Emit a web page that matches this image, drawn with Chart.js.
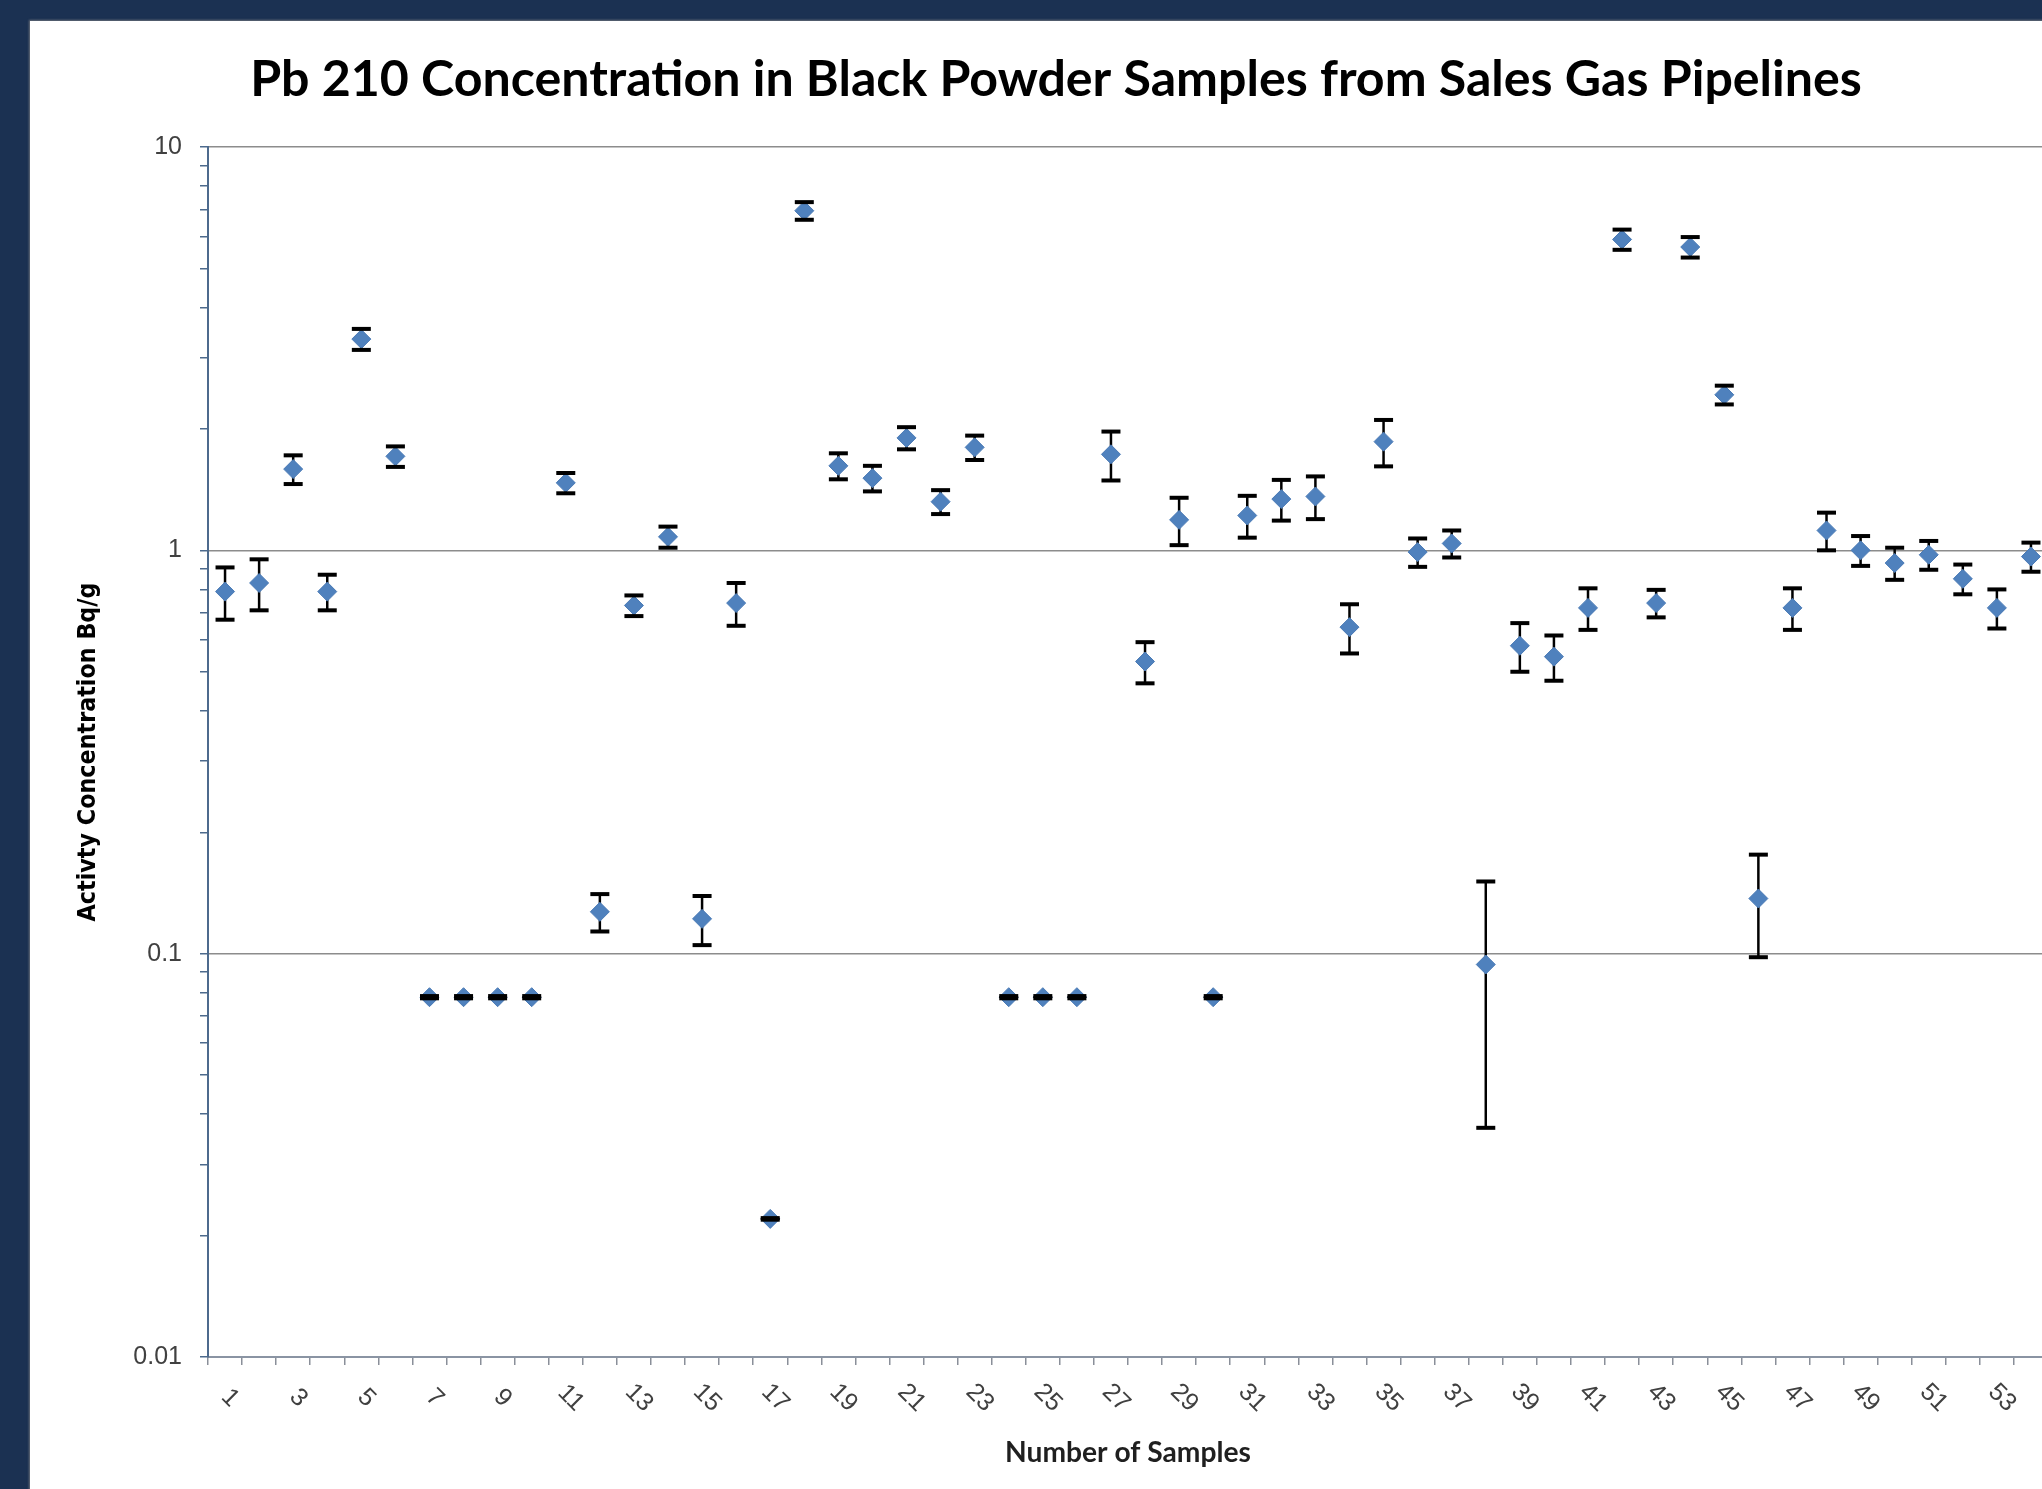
<!DOCTYPE html>
<html><head><meta charset="utf-8">
<script src="https://cdn.jsdelivr.net/npm/chart.js@4.4.1/dist/chart.umd.min.js"></script>
<style>
html,body{margin:0;padding:0;width:2042px;height:1489px;overflow:hidden;background:#1b3152;}
#panel{position:absolute;left:30px;top:21px;width:2100px;height:1500px;background:#fff;box-shadow:-1px -1px 2px rgba(140,140,140,0.7);}
#wrap{position:absolute;left:64px;top:21px;width:1984px;height:1468px;}
</style></head><body>
<div id="panel"></div>
<div id="wrap"><canvas id="c" width="1984" height="1468" style="width:1984px;height:1468px"></canvas></div>
<script>
// ---- data ----
const sampleLabels = ['1','2','3','4','5','6','7','8','9','10','11','12','13','14','15','16','17','18',
  '19','20','21','22','23','24','25','26','27','28','29','30','31','32','33','34','35','36',
  '37','38','39','40','41','42','43','44','45','46','47','48','49','50','51','52','53','54'];
const activity = [0.79, 0.83, 1.59, 0.79, 3.34, 1.71, 0.078, 0.078, 0.078, 0.078,
  1.47, 0.127, 0.73, 1.08, 0.122, 0.74, 0.022, 6.95, 1.62, 1.51,
  1.90, 1.32, 1.80, 0.078, 0.078, 0.078, 1.73, 0.53, 1.19, 0.078,
  1.22, 1.34, 1.36, 0.645, 1.86, 0.99, 1.04, 0.094, 0.58, 0.545,
  0.72, 5.9, 0.74, 5.65, 2.43, 0.137, 0.72, 1.12, 1.00, 0.93,
  0.975, 0.85, 0.72, 0.965];
const uncertainty = [0.117, 0.12, 0.13, 0.08, 0.20, 0.10, 0.0005, 0.0005, 0.0005, 0.0005,
  0.085, 0.0135, 0.043, 0.065, 0.017, 0.09, 0.0001, 0.35, 0.12, 0.11,
  0.12, 0.09, 0.125, 0.0005, 0.0005, 0.0005, 0.24, 0.062, 0.16, 0.0005,
  0.145, 0.155, 0.165, 0.09, 0.245, 0.08, 0.08, 0.057, 0.08, 0.07,
  0.085, 0.34, 0.058, 0.33, 0.13, 0.039, 0.085, 0.12, 0.085, 0.085,
  0.08, 0.072, 0.08, 0.08];
const yMajorTicks = [0.01, 0.1, 1, 10];
const yMajorLabels = ['0.01', '0.1', '1', '10'];
const yMinorTicks = [0.02,0.03,0.04,0.05,0.06,0.07,0.08,0.09,
  0.2,0.3,0.4,0.5,0.6,0.7,0.8,0.9, 2,3,4,5,6,7,8,9];
const titleText = 'Pb 210 Concentration in Black Powder Samples from Sales Gas Pipelines';
const xTitleText = 'Number of Samples';
const yTitleText = 'Activty Concentration Bq/g';

// ---- styling helpers ----
const mctx = document.createElement('canvas').getContext('2d');
function fitSize(text, weight, family, target) {
  mctx.font = weight + ' 100px ' + family;
  return 100 * target / mctx.measureText(text).width;
}
const TITLE_FAM = "Lato, 'Open Sans', sans-serif";
const YT_FAM = "'DejaVu Sans Condensed', 'Liberation Sans', sans-serif";
const TICK_FAM = "'Liberation Sans', Arial, sans-serif";
const titleSize = fitSize(titleText, 'bold', TITLE_FAM, 1612);
const xTitleSize = fitSize(xTitleText, 'bold', TITLE_FAM, 246);
const yTitleSize = fitSize(yTitleText, 'bold', YT_FAM, 339);
const TICK_SIZE = 25;

const PLOT_TOP = 126, X_AXIS_H = 132, Y_AXIS_W = 144;
const titlePadTop = 59 - 0.6 * titleSize;
const titlePadBottom = PLOT_TOP - titlePadTop - 1.2 * titleSize;

const isMajor = v => yMajorTicks.some(m => Math.abs(m - v) / m < 1e-6);
const yAllTicks = yMajorTicks.concat(yMinorTicks).sort((a, b) => a - b);

const errorBars = {
  id: 'errorBars',
  beforeDatasetsDraw(chart) {
    const {ctx, scales: {x, y}} = chart;
    ctx.save();
    ctx.strokeStyle = '#000';
    ctx.lineWidth = 2.5;
    activity.forEach((v, i) => {
      const px = x.getPixelForValue(i);
      ctx.beginPath();
      ctx.moveTo(px, y.getPixelForValue(v + uncertainty[i]));
      ctx.lineTo(px, y.getPixelForValue(v - uncertainty[i]));
      ctx.stroke();
    });
    ctx.restore();
  },
  afterDatasetsDraw(chart) {
    const {ctx, scales: {x, y}} = chart;
    ctx.save();
    ctx.strokeStyle = '#000';
    ctx.lineWidth = 4;
    activity.forEach((v, i) => {
      const px = x.getPixelForValue(i);
      [v + uncertainty[i], v - uncertainty[i]].forEach(e => {
        const py = y.getPixelForValue(e);
        ctx.beginPath();
        ctx.moveTo(px - 9.5, py);
        ctx.lineTo(px + 9.5, py);
        ctx.stroke();
      });
    });
    ctx.restore();
  }
};

const rotatedXLabels = {
  id: 'rotatedXLabels',
  afterDraw(chart) {
    const {ctx, scales: {x}} = chart;
    ctx.save();
    ctx.font = TICK_SIZE + 'px ' + TICK_FAM;
    ctx.fillStyle = '#404040';
    ctx.textAlign = 'center';
    ctx.textBaseline = 'middle';
    sampleLabels.forEach((lab, i) => {
      if (i % 2 !== 0) return;
      const px = x.getPixelForValue(i);
      ctx.save();
      ctx.translate(px + 5, x.top + 41);
      ctx.rotate(Math.PI / 4);
      ctx.fillText(lab, 0, 0);
      ctx.restore();
    });
    ctx.restore();
  }
};

new Chart(document.getElementById('c'), {
  type: 'line',
  data: {
    labels: sampleLabels,
    datasets: [{
      data: activity,
      showLine: false,
      pointStyle: 'rectRot',
      pointRadius: 9.5,
      pointBackgroundColor: '#4f81bd',
      pointBorderColor: '#4a7ab5',
      pointBorderWidth: 1
    }]
  },
  options: {
    responsive: false,
    animation: false,
    devicePixelRatio: 1,
    layout: { padding: 0, autoPadding: false },
    plugins: {
      legend: { display: false },
      tooltip: { enabled: false },
      title: {
        display: true,
        text: titleText,
        color: '#000',
        font: { family: TITLE_FAM, weight: 'bold', size: titleSize },
        padding: { top: titlePadTop, bottom: titlePadBottom }
      }
    },
    scales: {
      x: {
        type: 'category',
        offset: true,
        grid: { offset: true, drawOnChartArea: false, tickLength: 8, tickColor: '#8a8f99', lineWidth: 1.5 },
        border: { color: '#8a94a3', width: 2 },
        ticks: { display: false, autoSkip: false },
        afterFit: s => { s.height = X_AXIS_H; },
        title: {
          display: true, text: xTitleText, color: '#1f1f1f',
          font: { family: TITLE_FAM, weight: 'bold', size: xTitleSize },
          padding: { top: 0, bottom: 36 - 0.6 * xTitleSize }
        }
      },
      y: {
        type: 'logarithmic',
        min: 0.01, max: 10,
        afterBuildTicks: s => { s.ticks = yAllTicks.map(v => ({ value: v })); },
        afterFit: s => { s.width = Y_AXIS_W; },
        ticks: {
          autoSkip: false,
          padding: 18,
          color: '#404040',
          font: { family: TICK_FAM, size: TICK_SIZE },
          callback: v => { const k = yMajorTicks.findIndex(m => Math.abs(m - v) / m < 1e-6); return k >= 0 ? yMajorLabels[k] : ''; }
        },
        grid: {
          color: c => (c.tick && isMajor(c.tick.value)) ? '#8c8c8c' : 'rgba(0,0,0,0)',
          tickColor: '#4d6a8d',
          tickLength: 8,
          lineWidth: 1.5,
          tickWidth: 1.5
        },
        border: { color: '#4d6a8d', width: 2 },
        title: {
          display: true, text: yTitleText, color: '#000',
          font: { family: YT_FAM, weight: 'bold', size: yTitleSize },
          padding: { top: 24.5 - 0.6 * yTitleSize, bottom: 0 }
        }
      }
    }
  },
  plugins: [errorBars, rotatedXLabels]
});
</script>
</body></html>
